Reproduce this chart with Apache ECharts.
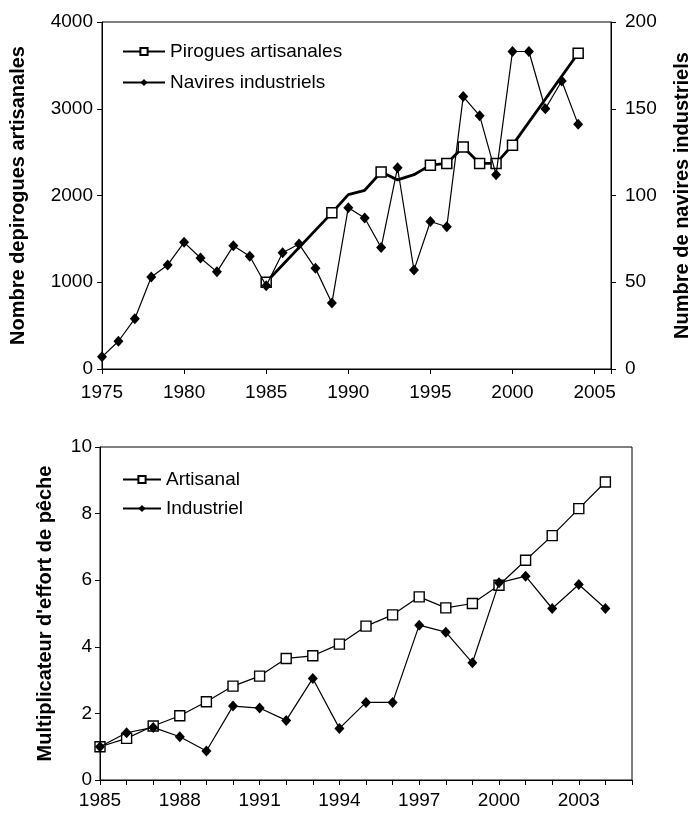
<!DOCTYPE html>
<html><head><meta charset="utf-8">
<script src="https://cdn.jsdelivr.net/npm/echarts@6/dist/echarts.min.js"></script>
<style>html,body{margin:0;padding:0;background:#fff}#c{width:700px;height:817px}</style>
</head><body><div id="c"></div>
<script>
// ---- Top chart data ----
const topYears = [1975,1976,1977,1978,1979,1980,1981,1982,1983,1984,1985,1986,1987,1988,1989,1990,1991,1992,1993,1994,1995,1996,1997,1998,1999,2000,2001,2002,2003,2004];
const navires = [7,16,29,53,60,73,64,56,71,65,48,67,72,58,38,93,87,70,116,57,85,82,157,146,112,183,183,150,166,141];
const pirogueYears = [1985,1989,1990,1991,1992,1993,1994,1995,1996,1997,1998,1999,2000,2004];
const pirogues = [1000,1800,2010,2060,2270,2180,2240,2350,2370,2560,2370,2370,2580,3640];
const pirogueMarkerYears = [1985,1989,1992,1995,1996,1997,1998,1999,2000,2004];
const topXLabels = [1975,1980,1985,1990,1995,2000,2005];
// ---- Bottom chart data ----
const bottomYears = [1985,1986,1987,1988,1989,1990,1991,1992,1993,1994,1995,1996,1997,1998,1999,2000,2001,2002,2003,2004];
const artisanal = [1.0,1.25,1.62,1.93,2.35,2.82,3.12,3.65,3.73,4.08,4.62,4.96,5.5,5.17,5.3,5.85,6.6,7.34,8.15,8.95];
const industriel = [1.0,1.42,1.58,1.3,0.87,2.22,2.16,1.79,3.05,1.55,2.33,2.33,4.65,4.44,3.52,5.92,6.12,5.15,5.87,5.15];
const bottomXLabels = [1985,1988,1991,1994,1997,2000,2003];

const FONT = '"Liberation Sans", Arial, sans-serif';
const chart = echarts.init(document.getElementById('c'), null, {renderer:'canvas'});
const axisLine = {show:true, lineStyle:{color:'#000', width:1}};
const axisTick = {show:true, length:5, lineStyle:{color:'#000', width:1}};
const lbl = (extra) => Object.assign({color:'#000', fontSize:19, fontFamily:FONT, formatter: v => String(v)}, extra);
const nameStyle = {color:'#000', fontSize:20, fontWeight:'bold', fontFamily:FONT};

chart.setOption({
  animation:false,
  textStyle:{fontFamily:FONT},
  grid:[
    {left:102, top:22, width:523, height:347, show:true, borderColor:'#000', borderWidth:1, backgroundColor:'transparent'},
    {left:100, top:447, width:532, height:333, show:true, borderColor:'#000', borderWidth:1, backgroundColor:'transparent'}
  ],
  legend:[
    {orient:'vertical', left:117, top:37, itemWidth:42, itemHeight:9, itemGap:12,
     data:['Pirogues artisanales','Navires industriels'],
     textStyle:{color:'#000', fontSize:19, fontFamily:FONT}},
    {orient:'vertical', left:117, top:465, itemWidth:38, itemHeight:9, itemGap:10,
     data:['Artisanal','Industriel'],
     textStyle:{color:'#000', fontSize:19, fontFamily:FONT}}
  ],
  xAxis:[
    {gridIndex:0, type:'value', min:1975, max:2006, interval:5, axisLine, axisTick, splitLine:{show:false},
     axisLabel:lbl({margin:14, formatter:v => topXLabels.includes(v) ? String(v) : ''})},
    {gridIndex:1, type:'value', min:1985, max:2005, interval:1, axisLine, axisTick, splitLine:{show:false},
     axisLabel:lbl({margin:11, formatter:v => bottomXLabels.includes(v) ? String(v) : ''})}
  ],
  yAxis:[
    {gridIndex:0, type:'value', min:0, max:4000, interval:1000, position:'left', axisLine, axisTick, splitLine:{show:false},
     axisLabel:lbl({margin:9}), name:'Nombre depirogues artisanales', nameLocation:'middle', nameRotate:90, nameGap:74, nameTextStyle:nameStyle},
    {gridIndex:0, type:'value', min:0, max:200, interval:50, position:'right', axisLine, axisTick, splitLine:{show:false},
     axisLabel:lbl({margin:14}), name:'Numbre de navires industriels', nameLocation:'middle', nameRotate:90, nameGap:61, nameTextStyle:nameStyle},
    {gridIndex:1, type:'value', min:0, max:10, interval:2, position:'left', axisLine, axisTick, splitLine:{show:false},
     axisLabel:lbl({margin:8}), name:"Multiplicateur d'effort de pêche", nameLocation:'middle', nameRotate:90, nameGap:45, nameTextStyle:nameStyle}
  ],
  series:[
    {name:'Pirogues artisanales', type:'line', xAxisIndex:0, yAxisIndex:0,
     data: pirogueYears.map((y,i) => ({value:[y, pirogues[i]], symbol: pirogueMarkerYears.includes(y) ? 'rect' : 'none'})),
     symbol:'rect', symbolSize:10, showAllSymbol:true,
     itemStyle:{color:'#fff', borderColor:'#000', borderWidth:1.5},
     lineStyle:{color:'#000', width:2.8}, z:2},
    {name:'Navires industriels', type:'line', xAxisIndex:0, yAxisIndex:1,
     data: topYears.map((y,i) => [y, navires[i]]),
     symbol:'diamond', symbolSize:[10,11], showAllSymbol:true,
     itemStyle:{color:'#000', borderColor:'#000', borderWidth:0},
     lineStyle:{color:'#000', width:1.2}, z:3},
    {name:'Artisanal', type:'line', xAxisIndex:1, yAxisIndex:2,
     data: bottomYears.map((y,i) => [y, artisanal[i]]),
     symbol:'rect', symbolSize:10, showAllSymbol:true,
     itemStyle:{color:'#fff', borderColor:'#000', borderWidth:1.4},
     lineStyle:{color:'#000', width:1.2}, z:2},
    {name:'Industriel', type:'line', xAxisIndex:1, yAxisIndex:2,
     data: bottomYears.map((y,i) => [y, industriel[i]]),
     symbol:'diamond', symbolSize:[10,11], showAllSymbol:true,
     itemStyle:{color:'#000', borderColor:'#000', borderWidth:0},
     lineStyle:{color:'#000', width:1.2}, z:3}
  ]
});
</script></body></html>
